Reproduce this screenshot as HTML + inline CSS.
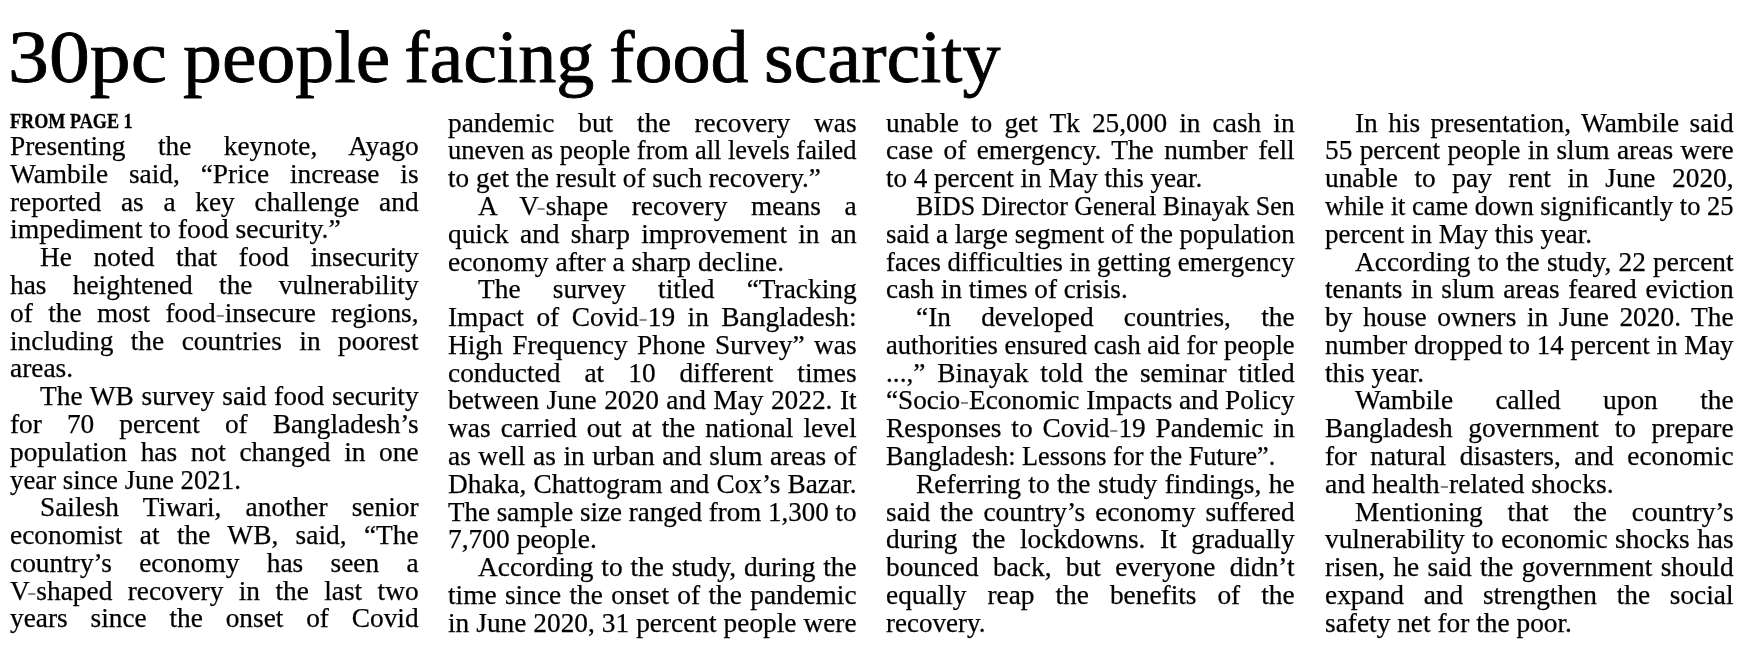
<!DOCTYPE html>
<html><head><meta charset="utf-8"><style>
html,body{margin:0;padding:0;background:#fff;}
body{width:1744px;height:651px;overflow:hidden;position:relative;}
#w{position:absolute;left:0;top:0;width:1744px;height:651px;background:#fff;filter:grayscale(1);}
.l{position:absolute;white-space:nowrap;font-family:"Liberation Serif",serif;font-size:28.00px;line-height:28px;color:#000;transform-origin:0 0;-webkit-text-stroke:0.25px #000;}
.j{text-align:justify;text-align-last:justify;}
.h{position:absolute;white-space:nowrap;font-family:"Liberation Serif",serif;color:#000;transform-origin:0 0;}
.hy{color:#8a8a8a;-webkit-text-stroke:0;}
.hw{-webkit-text-stroke:0.80px #000;}
</style></head><body><div id="w">

<div class="h hw" style="left:7.76px;top:12.86px;font-size:73px;line-height:90px;transform:scale(1.1201,1.0000)">30pc</div>
<div class="h hw" style="left:182.91px;top:12.86px;font-size:73px;line-height:90px;transform:scale(1.0654,1.0000)">people</div>
<div class="h hw" style="left:403.89px;top:12.86px;font-size:73px;line-height:90px;transform:scale(1.0441,1.0000)">facing</div>
<div class="h hw" style="left:608.86px;top:12.86px;font-size:73px;line-height:90px;transform:scale(1.0441,1.0000)">food</div>
<div class="h hw" style="left:763.79px;top:12.86px;font-size:73px;line-height:90px;transform:scale(1.0421,1.0000)">scarcity</div>
<div class="h" style="left:10.30px;top:108.78px;font-size:21.4px;line-height:24px;font-weight:bold;-webkit-text-stroke:0.3px #000;transform:scaleX(0.8480)">FROM PAGE 1</div>
<div class="l j" style="left:10.00px;top:132.15px;width:418.22px;transform:scaleX(0.9770)">Presenting the keynote, Ayago</div>
<div class="l j" style="left:10.00px;top:159.93px;width:418.22px;transform:scaleX(0.9770)">Wambile said, “Price increase is</div>
<div class="l j" style="left:10.00px;top:187.71px;width:418.22px;transform:scaleX(0.9770)">reported as a key challenge and</div>
<div class="l" style="left:10.00px;top:215.49px;width:412.81px;transform:scaleX(0.9898)">impediment to food security.”</div>
<div class="l j" style="left:40.00px;top:243.27px;width:387.51px;transform:scaleX(0.9770)">He noted that food insecurity</div>
<div class="l j" style="left:10.00px;top:271.05px;width:418.22px;transform:scaleX(0.9770)">has heightened the vulnerability</div>
<div class="l j" style="left:10.00px;top:298.83px;width:418.22px;transform:scaleX(0.9770)">of the most food<span class="hy">-</span>insecure regions,</div>
<div class="l j" style="left:10.00px;top:326.61px;width:418.22px;transform:scaleX(0.9770)">including the countries in poorest</div>
<div class="l" style="left:10.00px;top:354.39px;width:418.16px;transform:scaleX(0.9771)">areas.</div>
<div class="l j" style="left:40.00px;top:382.17px;width:387.51px;transform:scaleX(0.9770)">The WB survey said food security</div>
<div class="l j" style="left:10.00px;top:409.95px;width:418.22px;transform:scaleX(0.9770)">for 70 percent of Bangladesh’s</div>
<div class="l j" style="left:10.00px;top:437.73px;width:418.22px;transform:scaleX(0.9770)">population has not changed in one</div>
<div class="l" style="left:10.00px;top:465.51px;width:426.54px;transform:scaleX(0.9579)">year since June 2021.</div>
<div class="l j" style="left:40.00px;top:493.29px;width:387.51px;transform:scaleX(0.9770)">Sailesh Tiwari, another senior</div>
<div class="l j" style="left:10.00px;top:521.07px;width:418.22px;transform:scaleX(0.9770)">economist at the WB, said, “The</div>
<div class="l j" style="left:10.00px;top:548.85px;width:418.22px;transform:scaleX(0.9770)">country’s economy has seen a</div>
<div class="l j" style="left:10.00px;top:576.63px;width:418.22px;transform:scaleX(0.9770)">V<span class="hy">-</span>shaped recovery in the last two</div>
<div class="l j" style="left:10.00px;top:604.41px;width:418.22px;transform:scaleX(0.9770)">years since the onset of Covid</div>
<div class="l j" style="left:448.00px;top:108.65px;width:418.22px;transform:scaleX(0.9770)">pandemic but the recovery was</div>
<div class="l j" style="left:448.00px;top:136.43px;width:432.28px;transform:scaleX(0.9452)">uneven as people from all levels failed</div>
<div class="l" style="left:448.00px;top:164.21px;width:421.54px;transform:scaleX(0.9693)">to get the result of such recovery.”</div>
<div class="l j" style="left:478.00px;top:191.99px;width:387.51px;transform:scaleX(0.9770)">A V<span class="hy">-</span>shape recovery means a</div>
<div class="l j" style="left:448.00px;top:219.77px;width:418.22px;transform:scaleX(0.9770)">quick and sharp improvement in an</div>
<div class="l" style="left:448.00px;top:247.55px;width:416.90px;transform:scaleX(0.9801)">economy after a sharp decline.</div>
<div class="l j" style="left:478.00px;top:275.33px;width:387.51px;transform:scaleX(0.9770)">The survey titled “Tracking</div>
<div class="l j" style="left:448.00px;top:303.11px;width:418.22px;transform:scaleX(0.9770)">Impact of Covid<span class="hy">-</span>19 in Bangladesh:</div>
<div class="l j" style="left:448.00px;top:330.89px;width:418.22px;transform:scaleX(0.9770)">High Frequency Phone Survey” was</div>
<div class="l j" style="left:448.00px;top:358.67px;width:418.22px;transform:scaleX(0.9770)">conducted at 10 different times</div>
<div class="l j" style="left:448.00px;top:386.45px;width:418.22px;transform:scaleX(0.9770)">between June 2020 and May 2022. It</div>
<div class="l j" style="left:448.00px;top:414.23px;width:418.22px;transform:scaleX(0.9770)">was carried out at the national level</div>
<div class="l j" style="left:448.00px;top:442.01px;width:418.22px;transform:scaleX(0.9770)">as well as in urban and slum areas of</div>
<div class="l j" style="left:448.00px;top:469.79px;width:418.22px;transform:scaleX(0.9770)">Dhaka, Chattogram and Cox’s Bazar.</div>
<div class="l j" style="left:448.00px;top:497.57px;width:423.76px;transform:scaleX(0.9642)">The sample size ranged from 1,300 to</div>
<div class="l" style="left:448.00px;top:525.35px;width:416.42px;transform:scaleX(0.9812)">7,700 people.</div>
<div class="l j" style="left:478.00px;top:553.13px;width:387.51px;transform:scaleX(0.9770)">According to the study, during the</div>
<div class="l j" style="left:448.00px;top:580.91px;width:418.22px;transform:scaleX(0.9770)">time since the onset of the pandemic</div>
<div class="l j" style="left:448.00px;top:608.69px;width:418.22px;transform:scaleX(0.9770)">in June 2020, 31 percent people were</div>
<div class="l j" style="left:886.00px;top:108.65px;width:418.22px;transform:scaleX(0.9770)">unable to get Tk 25,000 in cash in</div>
<div class="l j" style="left:886.00px;top:136.43px;width:418.22px;transform:scaleX(0.9770)">case of emergency. The number fell</div>
<div class="l" style="left:886.00px;top:164.21px;width:422.96px;transform:scaleX(0.9660)">to 4 percent in May this year.</div>
<div class="l j" style="left:916.00px;top:191.99px;width:409.00px;transform:scaleX(0.9257)">BIDS Director General Binayak Sen</div>
<div class="l j" style="left:886.00px;top:219.77px;width:425.60px;transform:scaleX(0.9601)">said a large segment of the population</div>
<div class="l j" style="left:886.00px;top:247.55px;width:428.15px;transform:scaleX(0.9543)">faces difficulties in getting emergency</div>
<div class="l" style="left:886.00px;top:275.33px;width:422.01px;transform:scaleX(0.9682)">cash in times of crisis.</div>
<div class="l j" style="left:916.00px;top:303.11px;width:387.51px;transform:scaleX(0.9770)">“In developed countries, the</div>
<div class="l j" style="left:886.00px;top:330.89px;width:431.51px;transform:scaleX(0.9469)">authorities ensured cash aid for people</div>
<div class="l j" style="left:886.00px;top:358.67px;width:418.22px;transform:scaleX(0.9770)">...,” Binayak told the seminar titled</div>
<div class="l j" style="left:886.00px;top:386.45px;width:420.67px;transform:scaleX(0.9713)">“Socio<span class="hy">-</span>Economic Impacts and Policy</div>
<div class="l j" style="left:886.00px;top:414.23px;width:418.22px;transform:scaleX(0.9770)">Responses to Covid<span class="hy">-</span>19 Pandemic in</div>
<div class="l" style="left:886.00px;top:442.01px;width:436.75px;transform:scaleX(0.9355)">Bangladesh: Lessons for the Future”.</div>
<div class="l j" style="left:916.00px;top:469.79px;width:387.51px;transform:scaleX(0.9770)">Referring to the study findings, he</div>
<div class="l j" style="left:886.00px;top:497.57px;width:418.22px;transform:scaleX(0.9770)">said the country’s economy suffered</div>
<div class="l j" style="left:886.00px;top:525.35px;width:418.22px;transform:scaleX(0.9770)">during the lockdowns. It gradually</div>
<div class="l j" style="left:886.00px;top:553.13px;width:418.22px;transform:scaleX(0.9770)">bounced back, but everyone didn’t</div>
<div class="l j" style="left:886.00px;top:580.91px;width:418.22px;transform:scaleX(0.9770)">equally reap the benefits of the</div>
<div class="l" style="left:886.00px;top:608.69px;width:423.28px;transform:scaleX(0.9653)">recovery.</div>
<div class="l j" style="left:1354.50px;top:108.65px;width:387.51px;transform:scaleX(0.9770)">In his presentation, Wambile said</div>
<div class="l j" style="left:1324.50px;top:136.43px;width:418.22px;transform:scaleX(0.9770)">55 percent people in slum areas were</div>
<div class="l j" style="left:1324.50px;top:164.21px;width:418.22px;transform:scaleX(0.9770)">unable to pay rent in June 2020,</div>
<div class="l j" style="left:1324.50px;top:191.99px;width:430.80px;transform:scaleX(0.9485)">while it came down significantly to 25</div>
<div class="l" style="left:1324.50px;top:219.77px;width:424.79px;transform:scaleX(0.9619)">percent in May this year.</div>
<div class="l j" style="left:1354.50px;top:247.55px;width:387.51px;transform:scaleX(0.9770)">According to the study, 22 percent</div>
<div class="l j" style="left:1324.50px;top:275.33px;width:418.22px;transform:scaleX(0.9770)">tenants in slum areas feared eviction</div>
<div class="l j" style="left:1324.50px;top:303.11px;width:418.22px;transform:scaleX(0.9770)">by house owners in June 2020. The</div>
<div class="l j" style="left:1324.50px;top:330.89px;width:424.55px;transform:scaleX(0.9624)">number dropped to 14 percent in May</div>
<div class="l" style="left:1324.50px;top:358.67px;width:417.27px;transform:scaleX(0.9792)">this year.</div>
<div class="l j" style="left:1354.50px;top:386.45px;width:387.51px;transform:scaleX(0.9770)">Wambile called upon the</div>
<div class="l j" style="left:1324.50px;top:414.23px;width:418.22px;transform:scaleX(0.9770)">Bangladesh government to prepare</div>
<div class="l j" style="left:1324.50px;top:442.01px;width:418.22px;transform:scaleX(0.9770)">for natural disasters, and economic</div>
<div class="l" style="left:1324.50px;top:469.79px;width:412.60px;transform:scaleX(0.9903)">and health<span class="hy">-</span>related shocks.</div>
<div class="l j" style="left:1354.50px;top:497.57px;width:387.51px;transform:scaleX(0.9770)">Mentioning that the country’s</div>
<div class="l j" style="left:1324.50px;top:525.35px;width:418.22px;transform:scaleX(0.9770)">vulnerability to economic shocks has</div>
<div class="l j" style="left:1324.50px;top:553.13px;width:418.22px;transform:scaleX(0.9770)">risen, he said the government should</div>
<div class="l j" style="left:1324.50px;top:580.91px;width:418.22px;transform:scaleX(0.9770)">expand and strengthen the social</div>
<div class="l" style="left:1324.50px;top:608.69px;width:418.15px;transform:scaleX(0.9772)">safety net for the poor.</div>
</div></body></html>
